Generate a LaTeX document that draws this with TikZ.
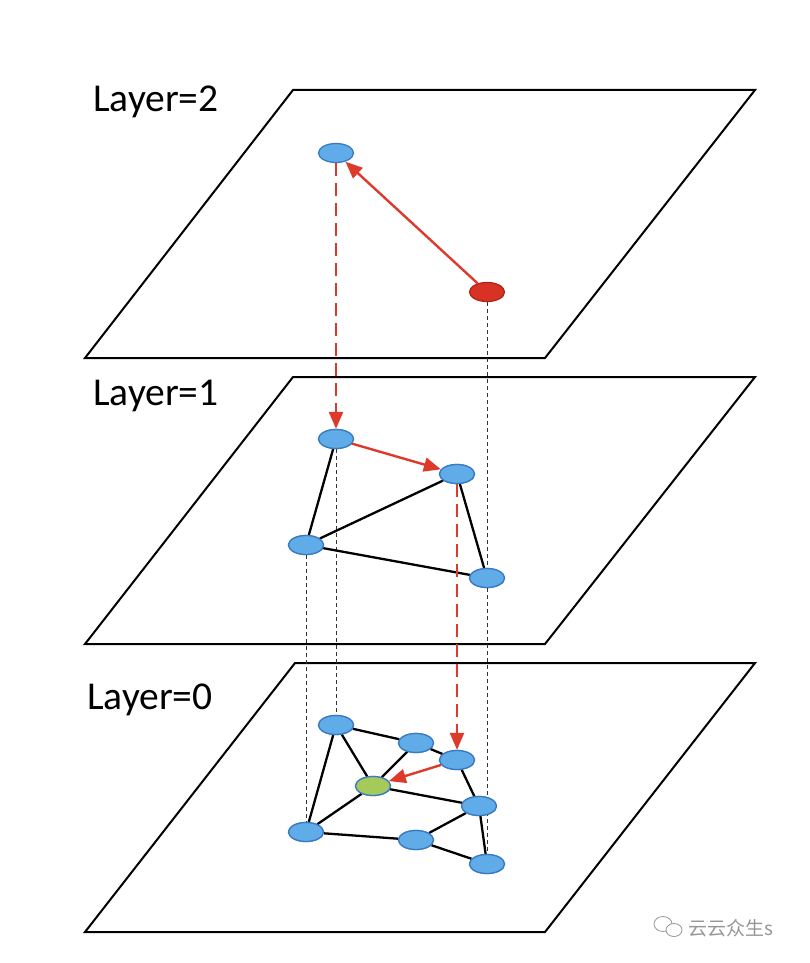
\documentclass[tikz,border=0pt]{standalone}
\usepackage{fontspec}
\setmainfont{Carlito}
\newfontfamily\cjk{Noto Sans CJK SC}
\usetikzlibrary{shapes.geometric,arrows.meta}
\definecolor{nblue}{RGB}{96,172,232}
\definecolor{nblueb}{RGB}{58,122,196}
\definecolor{nred}{RGB}{216,50,36}
\definecolor{nredb}{RGB}{176,36,26}
\definecolor{ngreen}{RGB}{166,202,90}
\definecolor{arrred}{RGB}{222,58,44}
\definecolor{wmgray}{RGB}{150,150,150}
\tikzset{
  plane/.style={draw=black, line width=2pt, line join=miter},
  vnode/.style={ellipse, draw=nblueb, fill=nblue, line width=1.3pt, minimum width=35pt, minimum height=19pt, inner sep=0pt},
  rnode/.style={vnode, draw=nredb, fill=nred},
  gnode/.style={vnode, fill=ngreen},
  edge/.style={draw=black, line width=2.3pt},
  guide/.style={draw=black!80, line width=1pt, dash pattern=on 4pt off 3pt},
  redarrow/.style={draw=arrred, line width=2.4pt, -{Triangle[length=17pt,width=14pt]}},
  reddash/.style={redarrow, dash pattern=on 13pt off 7pt},
  layerlabel/.style={anchor=base west, font=\fontsize{39.5}{42}\selectfont, inner sep=0pt},
}
\begin{document}
\begin{tikzpicture}[x=1pt,y=-1pt]
\useasboundingbox (0,0) rectangle (810,963);
% planes
\draw[plane] (293,90) -- (755,90) -- (545,358) -- (85,358) -- cycle;
\draw[plane] (293,377) -- (755,377) -- (545,644) -- (85,644) -- cycle;
\draw[plane] (295,663) -- (755,663) -- (545,932) -- (85,932) -- cycle;
% labels
\node[layerlabel] (l2) at (93,112) {Layer=2};
\node[layerlabel] (l1) at (93,405) {Layer=1};
\node[layerlabel] (l0) at (87,709) {Layer=0};
% layer 2 nodes
\node[vnode] (t1) at (336,153) {};
\node[rnode] (t2) at (487,292) {};
% layer 1 nodes
\node[vnode] (mA) at (336,439) {};
\node[vnode] (mB) at (457,474) {};
\node[vnode] (mC) at (306,545) {};
\node[vnode] (mD) at (487,578) {};
% layer 0 nodes
\node[vnode] (ba) at (336,725) {};
\node[vnode] (bb) at (416,743) {};
\node[vnode] (bc) at (457,760) {};
\node[gnode] (bg) at (373,786) {};
\node[vnode] (be) at (479,806) {};
\node[vnode] (bf) at (306,832) {};
\node[vnode] (bh) at (416,840) {};
\node[vnode] (bi) at (487,864) {};
% vertical guides
\draw[guide] (t2.south) -- (mD.north);
\draw[guide] (mA.south) -- (ba.north);
\draw[guide] (mC.south) -- (bf.north);
\draw[guide] (mD.south) -- (bi.north);
% layer 1 edges
\draw[edge] (mA) -- (mC);
\draw[edge] (mC) -- (mB);
\draw[edge] (mC) -- (mD);
\draw[edge] (mB) -- (mD);
% layer 0 edges
\draw[edge] (ba) -- (bb);
\draw[edge] (ba) -- (bg);
\draw[edge] (ba) -- (bf);
\draw[edge] (bb) -- (bg);
\draw[edge] (bb) -- (bc);
\draw[edge] (bc) -- (be);
\draw[edge] (bg) -- (be);
\draw[edge] (bg) -- (bf);
\draw[edge] (bf) -- (bh);
\draw[edge] (bh) -- (be);
\draw[edge] (bh) -- (bi);
\draw[edge] (be) -- (bi);
% redraw nodes on top
\node[vnode] at (mA) {};
\node[vnode] at (mB) {};
\node[vnode] at (mC) {};
\node[vnode] at (mD) {};
\node[vnode] at (ba) {};
\node[vnode] at (bb) {};
\node[vnode] at (bc) {};
\node[gnode] at (bg) {};
\node[vnode] at (be) {};
\node[vnode] at (bf) {};
\node[vnode] at (bh) {};
\node[vnode] at (bi) {};
% red arrows
\draw[redarrow] (t2) -- (t1);
\draw[reddash] (t1.south) -- (mA.north);
\draw[redarrow] (mA) -- (mB);
\draw[reddash] (mB.south) -- (bc.north);
\draw[redarrow] (bc) -- (bg);
% watermark
\begin{scope}[draw=wmgray, line width=0.8pt]
\draw (663,924) ellipse (9pt and 7.5pt);
\draw[fill=white] (674,930) ellipse (8pt and 6.5pt);
\end{scope}
\node[anchor=west, text=wmgray, font=\cjk\fontsize{19}{21}\selectfont, inner sep=0pt] (wm) at (688,928) {云云众生s};
\end{tikzpicture}
\end{document}
